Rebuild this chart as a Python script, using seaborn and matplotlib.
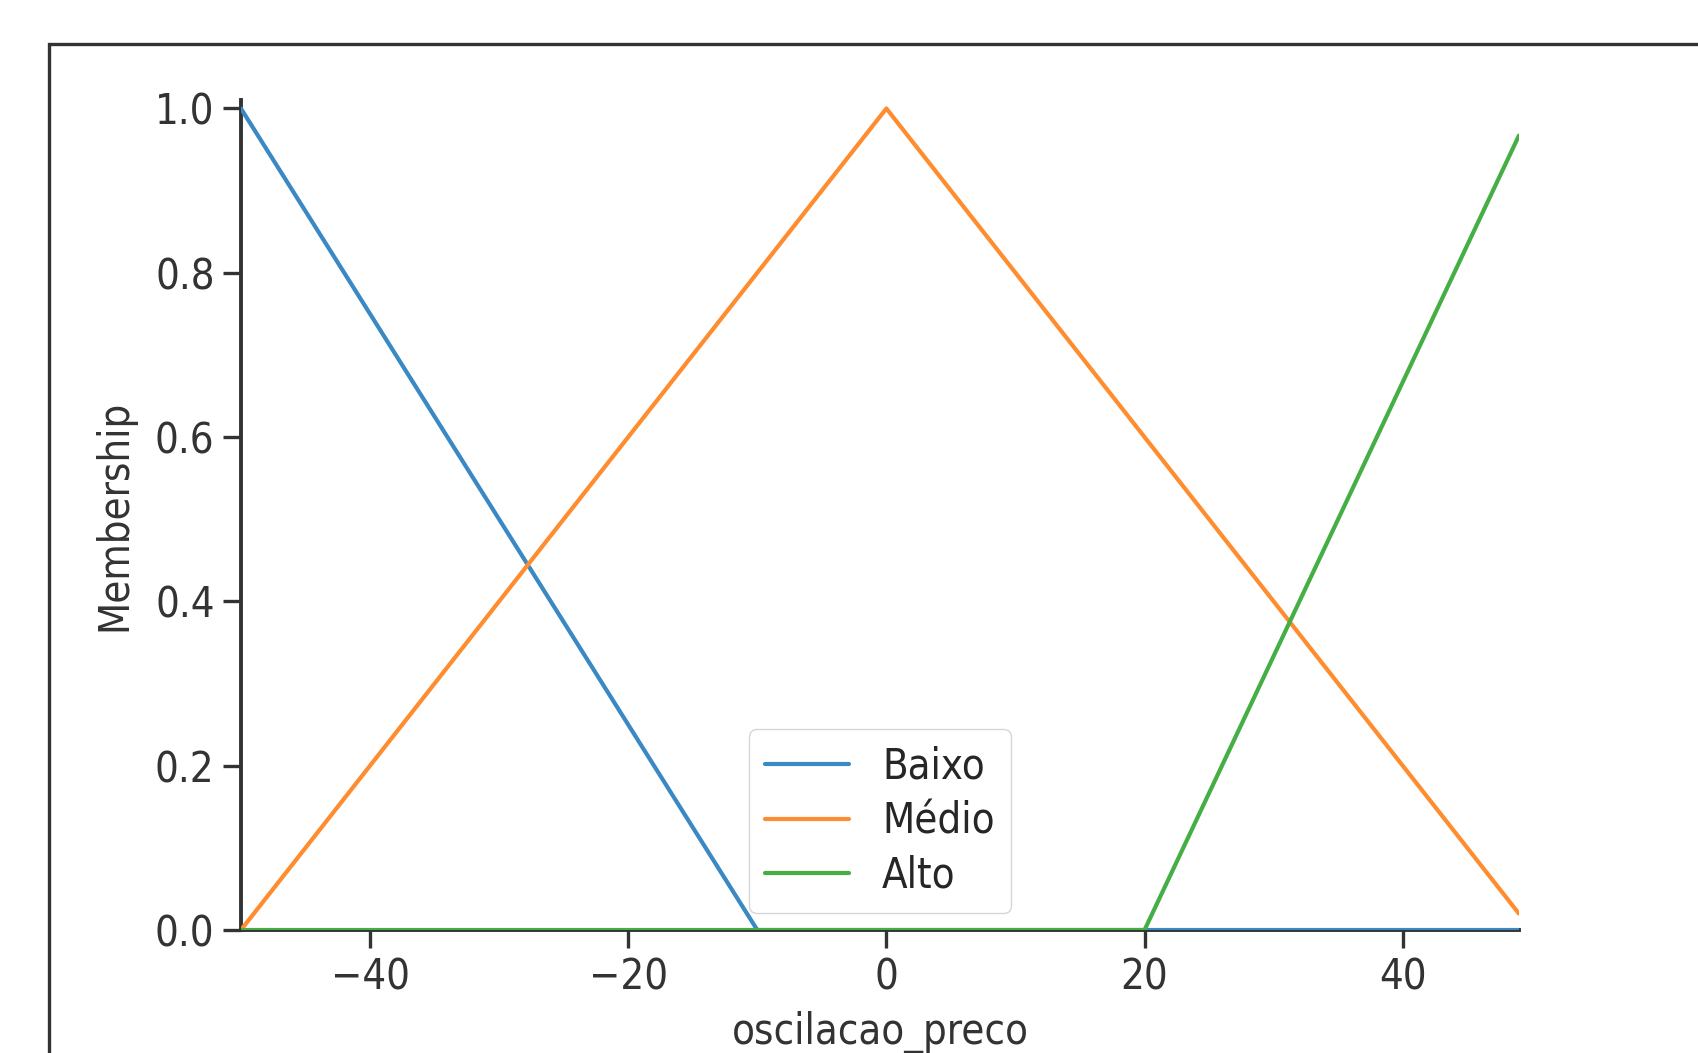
import matplotlib
matplotlib.use("Agg")
import matplotlib.pyplot as plt
import seaborn as sns
import pandas as pd
from matplotlib.patches import Rectangle

# Breakpoints of each membership function
baixo_x = [-50, -10, 49]
baixo_y = [1.0, 0.0, 0.0]
medio_x = [-50, 0, 49]
medio_y = [0.0, 1.0, 0.02]
alto_x = [-50, 20, 49]
alto_y = [0.0, 0.0, 0.967]
labels = ["Baixo", "Médio", "Alto"]
xticks = [-40, -20, 0, 20, 40]
yticks = [0.0, 0.2, 0.4, 0.6, 0.8, 1.0]

frames = []
for name, xs, ys in zip(labels, [baixo_x, medio_x, alto_x], [baixo_y, medio_y, alto_y]):
    frames.append(pd.DataFrame({"x": xs, "y": ys, "term": name}))
df = pd.concat(frames, ignore_index=True)

sns.set_style("ticks")
FS = 30
plt.rcParams["font.family"] = ["DejaVu Sans"]
plt.rcParams["font.stretch"] = "condensed"
plt.rcParams["font.size"] = FS

fig = plt.figure(figsize=(16.99, 10.53), dpi=100)
ax = fig.add_axes([0.1418, 0.1168, 0.7522, 0.788])

palette = ["#3a88c4", "#ff8c2e", "#45ae45"]
sns.lineplot(data=df, x="x", y="y", hue="term", hue_order=labels, palette=palette,
             linewidth=3.0, ax=ax, sort=False, estimator=None, zorder=3)

ax.set_xlim(-50, 49)
ax.set_ylim(0, 1.01)
ax.set_xticks(xticks)
ax.set_yticks(yticks)
ax.set_xlabel("oscilacao_preco", fontsize=FS, color="#333333", labelpad=9)
ax.set_ylabel("Membership", fontsize=FS, color="#333333", labelpad=14)
ax.tick_params(axis="both", labelsize=FS, length=13, width=2.4, pad=6, colors="#333333")
for side in ["top", "right"]:
    ax.spines[side].set_visible(False)
for side in ["left", "bottom"]:
    ax.spines[side].set_linewidth(2.8)
    ax.spines[side].set_color("#333333")

handles, _ = ax.get_legend_handles_labels()
leg = ax.legend(handles=handles, labels=labels, loc="lower center", fontsize=FS,
                frameon=True, borderaxespad=0.4, labelspacing=0.3)
for line in leg.get_lines():
    line.set_linewidth(3.0)

# screenshot frame
fig.patches.append(Rectangle((0.0288, -0.2), 1.5, 0.9582 + 0.2, transform=fig.transFigure,
                             fill=False, edgecolor="#333333", linewidth=2.4, zorder=10))

fig.savefig("out.png", dpi=100, facecolor="white")
